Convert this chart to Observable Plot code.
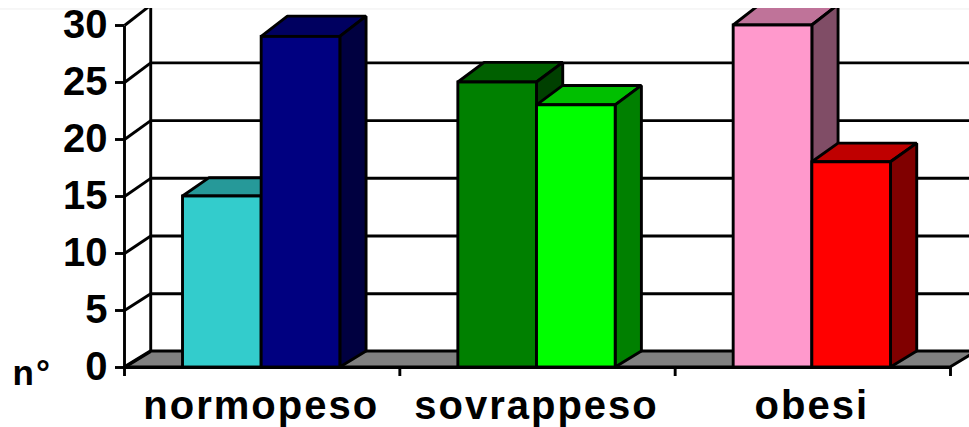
<!DOCTYPE html>
<html>
<head>
<meta charset="utf-8">
<script src="https://cdn.jsdelivr.net/npm/d3@7"></script>
<script src="https://cdn.jsdelivr.net/npm/@observablehq/plot@0.6"></script>
<style>
html,body{margin:0;padding:0;background:#fff;}
svg{display:block;clip-path:inset(8px 0 0 0);font-family:"Liberation Sans",Arial,sans-serif;font-weight:bold;overflow:hidden;}
g[aria-label="text"] text{letter-spacing:2px;}
</style>
</head>
<body>
<div id="chart"></div>
<script>
const categories = ["normopeso", "sovrappeso", "obesi"];
const leftValues = [15, 25, 30];
const rightValues = [29, 23, 18];
const leftFront = ["#33CCCC", "#008000", "#FF99CC"];
const leftTop = ["#269999", "#006000", "#BF7399"];
const leftSide = ["#1A6666", "#004000", "#804D66"];
const rightFront = ["#000080", "#00FF00", "#FF0000"];
const rightTop = ["#000060", "#00BF00", "#BF0000"];
const rightSide = ["#000040", "#008000", "#800000"];
const yTicks = [0, 5, 10, 15, 20, 25, 30];

// Category layout of the 3D column chart, in category units
const barW = 1 / 3.5;
const gap = 0.2125;
const depthX = barW / 3;
// Back-wall position of a value, in value units
const backY = v => 1.40 + 1.013 * v;
const LW = 2.9;

function face(rows, fill) {
  return Plot.area(rows, {x1: "x1", y1: "y1", x2: "x2", y2: "y2", fill, stroke: "black", strokeWidth: LW, strokeLinejoin: "miter"});
}
function bar(x0, v, front, top, side) {
  const x1 = x0 + barW;
  return [
    face([{x1: x0, y1: v, x2: x0 + depthX, y2: backY(v)}, {x1: x1, y1: v, x2: x1 + depthX, y2: backY(v)}], top),
    face([{x1: x1, y1: 0, x2: x1 + depthX, y2: backY(0)}, {x1: x1, y1: v, x2: x1 + depthX, y2: backY(v)}], side),
    Plot.rect([{x1: x0, x2: x1, y1: 0, y2: v}], {x1: "x1", x2: "x2", y1: "y1", y2: "y2", fill: front, stroke: "black", strokeWidth: LW})
  ];
}

const barMarks = categories.flatMap((c, i) => [
  ...bar(i + gap, leftValues[i], leftFront[i], leftTop[i], leftSide[i]),
  ...bar(i + gap + barW, rightValues[i], rightFront[i], rightTop[i], rightSide[i])
]);

const chart = Plot.plot({
  width: 969,
  height: 427,
  marginLeft: 124,
  marginRight: 19,
  marginTop: 25,
  marginBottom: 60,
  style: {background: "#fff", overflow: "hidden"},
  x: {domain: [0, 3], axis: null},
  y: {domain: [0, 30], axis: null},
  marks: [
    // faint edge of the picture
    Plot.link([{a: -0.46, b: 3.07, v: 31.45}], {x1: "a", x2: "b", y1: "v", y2: "v", stroke: "#eeeeee", strokeWidth: 1}),
    // floor
    face([{x1: 0, y1: 0, x2: depthX, y2: backY(0)}, {x1: 3, y1: 0, x2: 3 + depthX, y2: backY(0)}], "#808080"),
    // back wall gridlines and the diagonal wall lines
    Plot.link(yTicks.slice(1), {x1: () => depthX, x2: () => 3 + depthX, y1: backY, y2: backY, stroke: "black", strokeWidth: LW}),
    Plot.link(yTicks, {x1: () => 0, x2: () => depthX, y1: d => d, y2: backY, stroke: "black", strokeWidth: LW}),
    Plot.link([0], {x1: () => depthX, x2: () => depthX, y1: () => backY(0), y2: () => backY(31), stroke: "black", strokeWidth: LW}),
    // front axes
    Plot.link([0], {x1: () => 0, x2: () => 0, y1: () => 0, y2: () => 30, stroke: "black", strokeWidth: LW}),
    Plot.link([0], {x1: () => 0, x2: () => 3, y1: () => 0, y2: () => 0, stroke: "black", strokeWidth: LW}),
    Plot.axisY(yTicks, {anchor: "left", tickSize: 9, tickPadding: 8, fontSize: 40, fontWeight: "bold", fill: "black", stroke: "black", strokeWidth: LW, label: null}),
    Plot.axisX([0, 1, 2, 3], {anchor: "bottom", tickSize: 9, tickFormat: () => "", strokeWidth: LW, stroke: "black", label: null}),
    ...barMarks,
    Plot.text(categories, {x: (d, i) => i + 0.5, y: () => 0, text: d => d, dy: 39, dx: -1, fontSize: 40, fontWeight: "bold", fill: "black"}),
    Plot.text(["n°"], {x: () => 0, y: () => 0, text: d => d, textAnchor: "start", dx: -112, dy: 6, fontSize: 35, fontWeight: "bold", fill: "black"})
  ]
});
document.getElementById("chart").appendChild(chart);
</script>
</body>
</html>
